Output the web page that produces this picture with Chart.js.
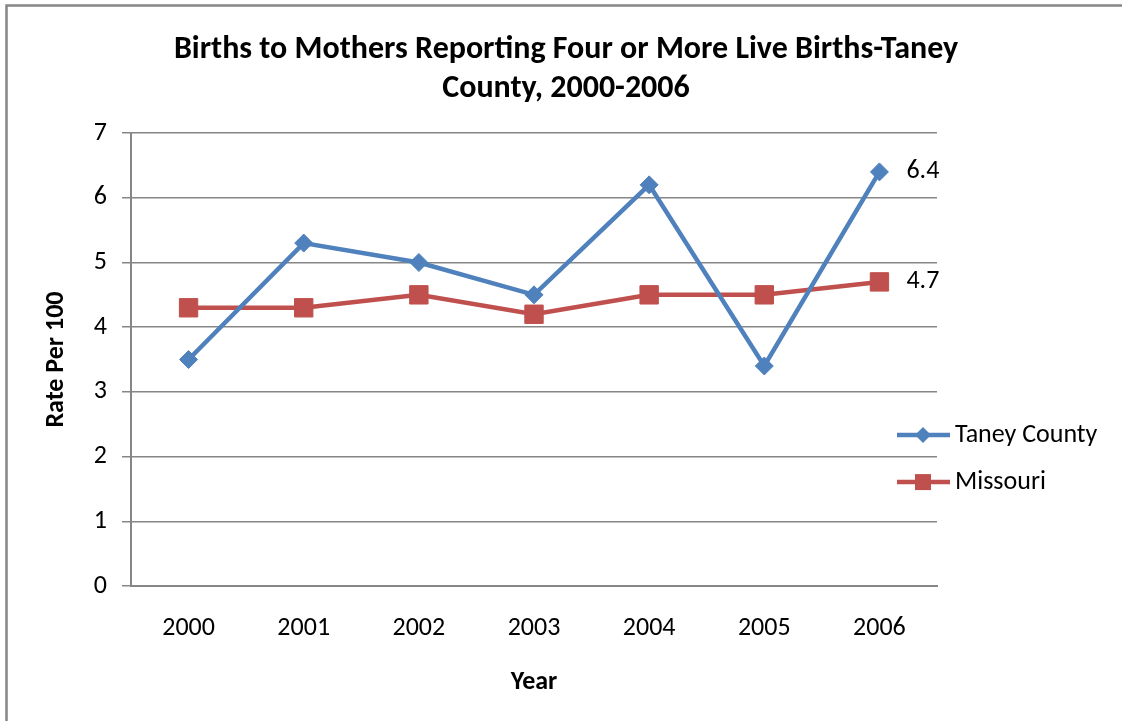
<!DOCTYPE html>
<html>
<head>
<meta charset="utf-8">
<script src="https://cdn.jsdelivr.net/npm/chart.js@4.4.0/dist/chart.umd.min.js"></script>
<style>
  body { margin: 0; background: #fff; }
  #wrap { width: 1122px; height: 721px; }
</style>
</head>
<body>
<div id="wrap"><canvas id="chart" width="1122" height="721"></canvas></div>
<script>
const years = ["2000", "2001", "2002", "2003", "2004", "2005", "2006"];
const taneyCounty = [3.5, 5.3, 5.0, 4.5, 6.2, 3.4, 6.4];
const missouri = [4.3, 4.3, 4.5, 4.2, 4.5, 4.5, 4.7];
const seriesNames = ["Taney County", "Missouri"];
const titleLines = ["Births to Mothers Reporting Four or More Live Births-Taney", "County, 2000-2006"];

const FONT = "Carlito, Lato, 'Open Sans', sans-serif";
const GRID = "#868686";

// grey frame round the whole chart (Excel chart border)
const frame = {
  id: "frame",
  beforeDraw(chart) {
    const ctx = chart.ctx;
    ctx.save();
    ctx.strokeStyle = GRID;
    ctx.lineWidth = 2.5;
    ctx.strokeRect(6.5, 5.5, 1400, 1000);
    ctx.restore();
  }
};

function drawMarker(ctx, style, x, y, half) {
  ctx.beginPath();
  if (style === "rectRot") {
    ctx.moveTo(x, y - half);
    ctx.lineTo(x + half, y);
    ctx.lineTo(x, y + half);
    ctx.lineTo(x - half, y);
    ctx.closePath();
  } else {
    ctx.rect(x - half, y - half, half * 2, half * 2);
  }
  ctx.fill();
}

// legend on the right, line + marker like Excel
const sideLegend = {
  id: "sideLegend",
  afterDraw(chart) {
    const { ctx, chartArea } = chart;
    ctx.save();
    chart.data.datasets.forEach((ds, i) => {
      const y = chartArea.top + 302 + i * 47;
      const x0 = chartArea.right - 40;
      ctx.strokeStyle = ds.borderColor;
      ctx.lineWidth = 4.5;
      ctx.beginPath();
      ctx.moveTo(x0, y);
      ctx.lineTo(x0 + 53, y);
      ctx.stroke();
      ctx.fillStyle = ds.borderColor;
      drawMarker(ctx, ds.pointStyle, x0 + 26, y, 8);
      ctx.fillStyle = "#000";
      ctx.font = "26px " + FONT;
      ctx.textBaseline = "middle";
      ctx.textAlign = "left";
      ctx.fillText(ds.label, x0 + 58, y);
    });
    ctx.restore();
  }
};

// value label next to the last point of each series
const lastLabels = {
  id: "lastLabels",
  afterDatasetsDraw(chart) {
    const ctx = chart.ctx;
    ctx.save();
    ctx.fillStyle = "#000";
    ctx.font = "26px " + FONT;
    ctx.textBaseline = "middle";
    ctx.textAlign = "left";
    chart.data.datasets.forEach((ds, i) => {
      const meta = chart.getDatasetMeta(i);
      const last = meta.data.length - 1;
      const pt = meta.data[last];
      ctx.fillText(ds.data[last].toFixed(1), pt.x + 27, pt.y);
    });
    ctx.restore();
  }
};

new Chart(document.getElementById("chart"), {
  type: "line",
  data: {
    labels: years,
    datasets: [
      {
        label: seriesNames[0],
        data: taneyCounty,
        borderColor: "#4F81BD",
        backgroundColor: "#4F81BD",
        borderWidth: 4.5,
        pointStyle: "rectRot",
        pointRadius: 9,
        pointBorderWidth: 1,
        tension: 0
      },
      {
        label: seriesNames[1],
        data: missouri,
        borderColor: "#C0504D",
        backgroundColor: "#C0504D",
        borderWidth: 4.5,
        pointStyle: "rect",
        pointRadius: 13,
        pointBorderWidth: 1,
        tension: 0
      }
    ]
  },
  options: {
    responsive: false,
    animation: false,
    layout: { padding: { left: 10, right: 0, top: 0, bottom: 0 } },
    plugins: {
      legend: { display: false },
      tooltip: { enabled: false },
      title: {
        display: true,
        text: titleLines,
        color: "#000",
        font: { family: FONT, size: 32, weight: "bold", lineHeight: 1.22 },
        padding: { top: 30, bottom: 25 }
      }
    },
    scales: {
      x: {
        offset: true,
        grid: { display: true, drawOnChartArea: false, drawTicks: false },
        border: { display: true, color: GRID, width: 2 },
        ticks: { color: "#000", font: { family: FONT, size: 26 }, padding: 27 },
        title: {
          display: true,
          text: "Year",
          color: "#000",
          font: { family: FONT, size: 26, weight: "bold" },
          padding: { top: 0, bottom: 23 }
        },
        afterFit(scale) { scale.height = 135; }
      },
      y: {
        min: 0,
        max: 7,
        ticks: { stepSize: 1, color: "#000", font: { family: FONT, size: 26 }, padding: 15 },
        grid: { color: GRID, lineWidth: 1.5, tickLength: 9 },
        border: { display: true, color: GRID, width: 2 },
        title: {
          display: true,
          text: "Rate Per 100",
          color: "#000",
          font: { family: FONT, size: 26, weight: "bold" },
          padding: { top: 31, bottom: 0 }
        },
        afterFit(scale) { scale.width = 121; }
      },
      // empty axis that only reserves room for the legend on the right
      side: {
        position: "right",
        display: true,
        grid: { display: false },
        border: { display: false },
        ticks: { display: false },
        afterFit(scale) { scale.width = 185; }
      }
    }
  },
  plugins: [frame, sideLegend, lastLabels]
});
</script>
</body>
</html>
